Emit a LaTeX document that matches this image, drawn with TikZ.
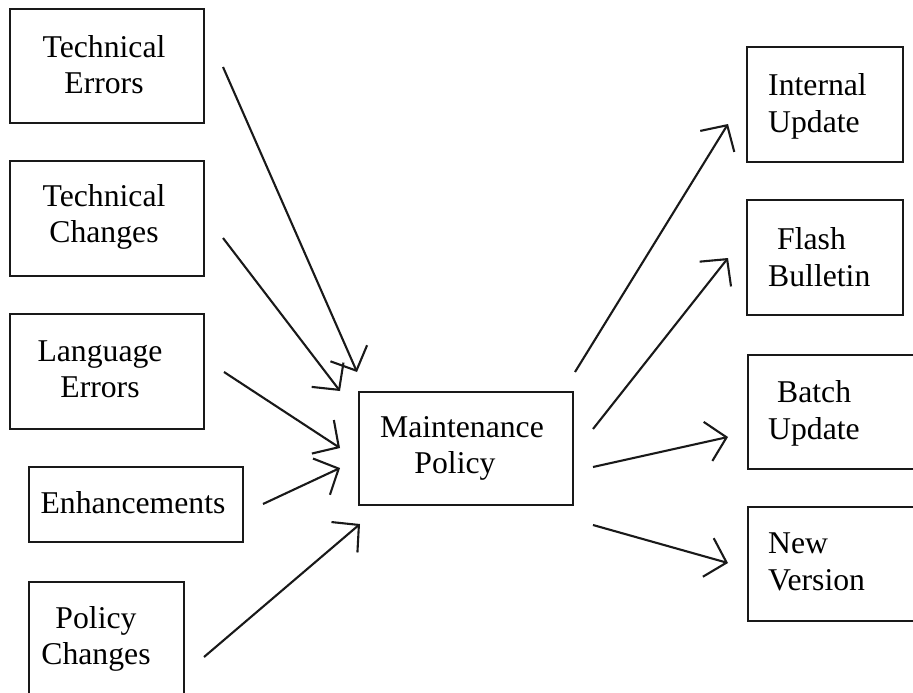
\documentclass[tikz,border=0pt]{standalone}
\usepackage{fontspec}
\setmainfont{Liberation Serif}
\usetikzlibrary{arrows.meta}
\begin{document}
\begin{tikzpicture}[x=1pt,y=-1pt,
  box/.style={draw=black!90,line width=2.2pt,rectangle,inner sep=0pt},
  txt/.style={font=\fontsize{31.7}{36}\selectfont,align=center,inner sep=0pt},
  rtxt/.style={font=\fontsize{31.7}{37}\selectfont,align=left,inner sep=0pt,anchor=west},
  arr/.style={line width=2.1pt,draw=black!90,-{Straight Barb[length=19pt,width=40pt,line width=2.1pt]}}]
\useasboundingbox (0,0) rectangle (913,693);
\clip (0,0) rectangle (913,693);
% left boxes
\node[box,minimum width=194pt,minimum height=114pt] (te) at (107,66) {};
\node[txt] (tet) at (104,65) {Technical\\Errors};
\node[box,minimum width=194pt,minimum height=115pt] (tc) at (107,218.5) {};
\node[txt] (tct) at (104,217) {Technical\\Changes};
\node[box,minimum width=194pt,minimum height=115pt] (le) at (107,371.5) {};
\node[txt] (let) at (100,369) {Language\\Errors};
\node[box,minimum width=214pt,minimum height=75pt] (en) at (136,504.5) {};
\node[txt] (ent) at (133,503) {Enhancements};
\node[box,minimum width=155pt,minimum height=140pt,anchor=north] (pc) at (106.5,581) {};
\node[txt] (pct) at (96,639) {Policy\\Changes};
% center box
\node[box,minimum width=214pt,minimum height=113pt] (mp) at (466,448.5) {};
\node[txt] (mpt) at (462,448) {Maintenance\\\hspace*{-14pt}Policy};
% right boxes
\node[box,minimum width=156pt,minimum height=115pt] (iu) at (825,104.5) {};
\node[rtxt] (iut) at (768,106) {Internal\\Update};
\node[box,minimum width=156pt,minimum height=115pt] (fb) at (825,257.5) {};
\node[rtxt] (fbt) at (768,257) {\hspace*{9pt}Flash\\Bulletin};
\node[box,minimum width=200pt,minimum height=114pt,anchor=north west] (bu) at (747,354) {};
\node[rtxt] (but) at (768,413) {\hspace*{9pt}Batch\\Update};
\node[box,minimum width=200pt,minimum height=114pt,anchor=north west] (nv) at (747,506) {};
\node[rtxt] (nvt) at (768,562) {New\\Version};
% connector end points
\coordinate (s1) at (223,67);  \coordinate (t1) at (357,372);
\coordinate (s2) at (223,238); \coordinate (t2) at (340,391);
\coordinate (s3) at (224,372); \coordinate (t3) at (340,448);
\coordinate (s4) at (263,504); \coordinate (t4) at (340,468);
\coordinate (s5) at (204,657); \coordinate (t5) at (360,524);
\coordinate (r1) at (575,372); \coordinate (u1) at (728,124);
\coordinate (r2) at (593,429); \coordinate (u2) at (728,258);
\coordinate (r3) at (593,467); \coordinate (u3) at (728,437);
\coordinate (r4) at (593,525); \coordinate (u4) at (728,563);
\draw[arr] (s1) -- (t1);
\draw[arr] (s2) -- (t2);
\draw[arr] (s3) -- (t3);
\draw[arr] (s4) -- (t4);
\draw[arr] (s5) -- (t5);
\draw[arr] (r1) -- (u1);
\draw[arr] (r2) -- (u2);
\draw[arr] (r3) -- (u3);
\draw[arr] (r4) -- (u4);
\end{tikzpicture}
\end{document}
